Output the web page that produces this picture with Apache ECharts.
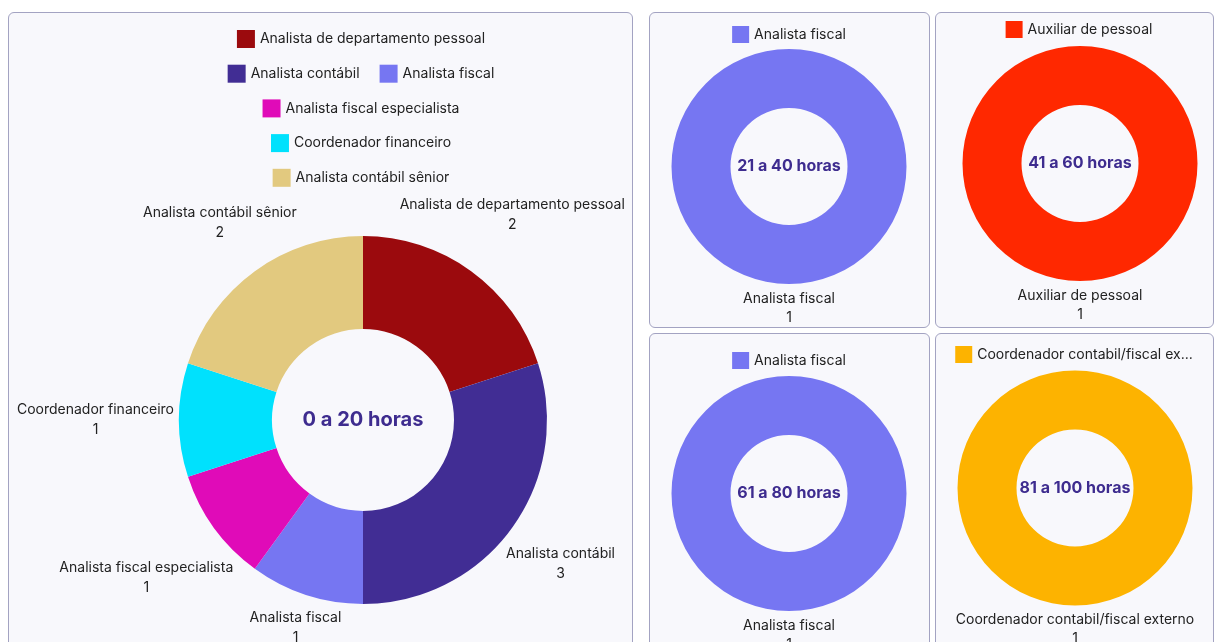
<!DOCTYPE html>
<html>
<head>
<meta charset="utf-8">
<script src="https://cdn.jsdelivr.net/npm/echarts@6/dist/echarts.min.js"></script>
<style>
  html, body { margin: 0; padding: 0; width: 1214px; height: 642px; overflow: hidden; background: #ffffff; }
  .panel { position: absolute; box-sizing: border-box; border: 1px solid #a3a3c2; border-radius: 6px; background: #f8f8fc; }
  .chart { position: absolute; }
</style>
</head>
<body>
<div class="panel" style="left:8px;top:12px;width:625px;height:660px;"></div>
<div class="panel" style="left:649px;top:12px;width:281px;height:316px;"></div>
<div class="panel" style="left:935px;top:12px;width:279px;height:316px;"></div>
<div class="panel" style="left:649px;top:333px;width:281px;height:330px;"></div>
<div class="panel" style="left:935px;top:333px;width:279px;height:330px;"></div>

<div id="c0" class="chart" style="left:8px;top:12px;width:706px;height:630px;"></div>
<div id="c1" class="chart" style="left:649px;top:12px;width:280px;height:315px;"></div>
<div id="c2" class="chart" style="left:940px;top:12px;width:278px;height:315px;"></div>
<div id="c3" class="chart" style="left:649px;top:333px;width:280px;height:309px;"></div>
<div id="c4" class="chart" style="left:935px;top:333px;width:278px;height:309px;"></div>

<script>
// ---------- DATA ----------
const titles = ['0 a 20 horas', '21 a 40 horas', '41 a 60 horas', '61 a 80 horas', '81 a 100 horas'];

const names0 = ['Analista de departamento pessoal', 'Analista contábil', 'Analista fiscal',
                'Analista fiscal especialista', 'Coordenador financeiro', 'Analista contábil sênior'];
const values0 = [2, 3, 1, 1, 1, 2];
const colors0 = ['#9b0a0d', '#412d94', '#7676f2', '#e00bb8', '#00e1fd', '#e2c97f'];
const legendRows0 = [[0], [1, 2], [3], [4], [5]];

const names1 = ['Analista fiscal'];
const values1 = [1];
const colors1 = ['#7676f2'];

const names2 = ['Auxiliar de pessoal'];
const values2 = [1];
const colors2 = ['#ff2800'];

const names3 = ['Analista fiscal'];
const values3 = [1];
const colors3 = ['#7676f2'];

const names4 = ['Coordenador contabil/fiscal externo'];
const values4 = [1];
const colors4 = ['#fdb300'];

// ---------- STYLE ----------
const FONT = 'Inter, "Noto Sans", sans-serif';
const TEXT = '#222222';
const TITLE_COLOR = '#3e2c8f';

// places each outside label on its slice's mid-angle ray so the label box clears the ring by `gap`
function labelLayoutFor(values, cx, cy, R, gap) {
  const total = values.reduce((a, b) => a + b, 0);
  return function (params) {
    const i = params.dataIndex;
    let before = 0;
    for (let k = 0; k < i; k++) before += values[k];
    const frac = (before + values[i] / 2) / total;
    const ang = Math.PI / 2 - frac * 2 * Math.PI;
    const ux = Math.cos(ang), uy = -Math.sin(ang);
    const hw = params.labelRect.width / 2, hh = params.labelRect.height / 2;
    let lo = 0, hi = R + gap + hw + hh + 100;
    for (let it = 0; it < 60; it++) {
      const t = (lo + hi) / 2;
      const dx = Math.max(Math.abs(ux * t) - hw, 0);
      const dy = Math.max(Math.abs(uy * t) - hh, 0);
      if (Math.hypot(dx, dy) < R + gap) lo = t; else hi = t;
    }
    const t = (lo + hi) / 2;
    return { x: cx + ux * t, y: cy + uy * t, align: 'center', verticalAlign: 'middle' };
  };
}

function buildOption(cfg) {
  const data = cfg.names.map((n, i) => ({ name: n, value: cfg.values[i], itemStyle: { color: cfg.colors[i] } }));
  const legends = cfg.legendRows.map((row, r) => ({
    data: row.map(i => cfg.names[i]),
    left: 'center',
    top: cfg.legendTop + r * cfg.legendPitch,
    padding: 0,
    icon: 'rect',
    itemWidth: cfg.iconSize,
    itemHeight: cfg.iconSize,
    itemGap: 20,
    selectedMode: false,
    textStyle: Object.assign({ color: TEXT, fontSize: 14, fontFamily: FONT }, cfg.legendText || {})
  }));
  return {
    animation: false,
    title: {
      text: cfg.title,
      left: cfg.cx,
      top: cfg.cy,
      textAlign: 'center',
      textVerticalAlign: 'middle',
      padding: 0,
      textStyle: { color: TITLE_COLOR, fontSize: cfg.titleSize, fontWeight: 'bold', fontFamily: FONT }
    },
    legend: legends,
    series: [{
      type: 'pie',
      center: [cfg.cx, cfg.cy],
      radius: [cfg.r, cfg.R],
      startAngle: 90,
      clockwise: true,
      avoidLabelOverlap: false,
      silent: true,
      itemStyle: { borderWidth: 0 },
      label: {
        show: true,
        position: 'outside',
        formatter: '{b}\n{c}',
        color: TEXT,
        fontSize: 14,
        fontFamily: FONT,
        lineHeight: cfg.labelLineHeight
      },
      labelLine: { show: false },
      labelLayout: labelLayoutFor(cfg.values, cfg.cx, cfg.cy, cfg.R, cfg.gap),
      data: data
    }]
  };
}

const configs = [
  { id: 'c0', names: names0, values: values0, colors: colors0, title: titles[0], legendRows: legendRows0,
    cx: 355, cy: 408, R: 184, r: 91, gap: 5, titleSize: 20, legendTop: 18, legendPitch: 34.7, iconSize: 18, labelLineHeight: 20 },
  { id: 'c1', names: names1, values: values1, colors: colors1, title: titles[1], legendRows: [[0]],
    cx: 140, cy: 154.5, R: 117.5, r: 58.5, gap: 5, titleSize: 16, legendTop: 14, legendPitch: 0, iconSize: 17, labelLineHeight: 19 },
  { id: 'c2', names: names2, values: values2, colors: colors2, title: titles[2], legendRows: [[0]],
    cx: 140, cy: 151.5, R: 117.5, r: 58.5, gap: 5, titleSize: 16, legendTop: 9, legendPitch: 0, iconSize: 17, labelLineHeight: 19 },
  { id: 'c3', names: names3, values: values3, colors: colors3, title: titles[3], legendRows: [[0]],
    cx: 140, cy: 160.5, R: 117.5, r: 58.5, gap: 5, titleSize: 16, legendTop: 19, legendPitch: 0, iconSize: 17, labelLineHeight: 19 },
  { id: 'c4', names: names4, values: values4, colors: colors4, title: titles[4], legendRows: [[0]],
    cx: 140, cy: 155, R: 117.5, r: 58.5, gap: 5, titleSize: 16, legendTop: 13, legendPitch: 0, iconSize: 17, labelLineHeight: 19,
    legendText: { width: 218, overflow: 'truncate', ellipsis: '...' } }
];

configs.forEach(cfg => {
  const chart = echarts.init(document.getElementById(cfg.id), null, { renderer: 'canvas' });
  chart.setOption(buildOption(cfg));
});
</script>
</body>
</html>
